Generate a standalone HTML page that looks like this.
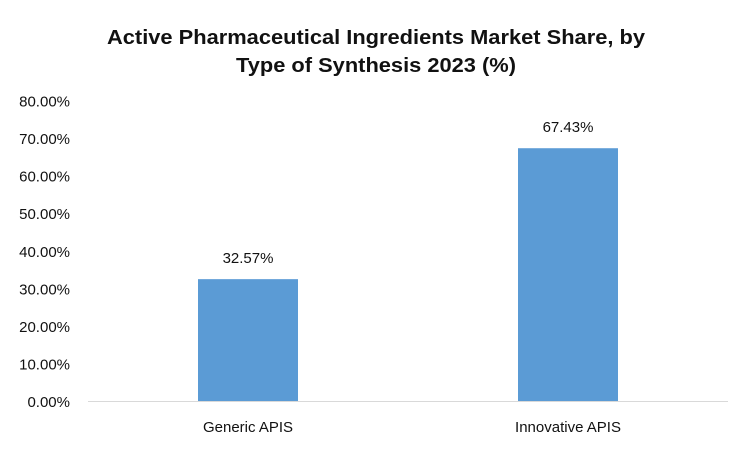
<!DOCTYPE html>
<html><head><meta charset="utf-8"><style>
html,body{margin:0;padding:0;background:#fff;}
svg{display:block;font-family:"Liberation Sans",sans-serif;}
</style></head><body>
<svg id="chart" width="750" height="450">
<rect width="750" height="450" fill="#fff"/>
<text x="376" y="44" text-anchor="middle" font-size="20" font-weight="bold" fill="#111" textLength="538" lengthAdjust="spacingAndGlyphs">Active Pharmaceutical  Ingredients Market Share, by</text>
<text x="376" y="72" text-anchor="middle" font-size="20" font-weight="bold" fill="#111" textLength="280" lengthAdjust="spacingAndGlyphs">Type of Synthesis 2023 (%)</text>
<g id="yaxis"></g><g id="bars"></g><g id="xaxis"></g>
</svg>
<script>
const categories = ["Generic APIS", "Innovative APIS"];
const values = [32.57, 67.43];
const valueLabels = ["32.57%", "67.43%"];
const yTicks = [0, 10, 20, 30, 40, 50, 60, 70, 80];
const yTickLabels = ["0.00%","10.00%","20.00%","30.00%","40.00%","50.00%","60.00%","70.00%","80.00%"];

const NS = "http://www.w3.org/2000/svg";
const x0 = 88, x1 = 728, yBase = 401.5, yTop = 101;
const y = v => yBase - (v / 80) * (yBase - yTop);
const band = (x1 - x0) / categories.length;
const xc = i => x0 + band * (i + 0.5);
const barW = 100;
function mk(tag, attrs, parent, text) {
  const e = document.createElementNS(NS, tag);
  for (const k in attrs) e.setAttribute(k, attrs[k]);
  if (text !== undefined) e.textContent = text;
  parent.appendChild(e);
  return e;
}
const ya = document.getElementById('yaxis');
yTicks.forEach((t, i) => {
  const el = mk('text', {x: 70, y: y(t) + 5.5, 'text-anchor': 'end', 'font-size': 15, fill: '#111'}, ya, yTickLabels[i]);
  
  
});
const bg = document.getElementById('bars');
values.forEach((v, i) => {
  const r = mk('rect', {x: xc(i) - barW / 2, y: y(v), width: barW, height: yBase - y(v), fill: '#5b9bd5'}, bg);
  
  
  const l = mk('text', {x: xc(i), y: y(v) - 16, 'text-anchor': 'middle', 'font-size': 15, fill: '#111'}, bg, valueLabels[i]);
  
  
});
const xa = document.getElementById('xaxis');
const ln = mk('line', {x1: x0, x2: x1, y1: yBase, y2: yBase, stroke: '#d9d9d9', 'stroke-width': 1}, xa);


categories.forEach((c, i) => {
  const t = mk('text', {x: xc(i), y: 432, 'text-anchor': 'middle', 'font-size': 15, fill: '#111'}, xa, c);
  
  
});
</script>
</body></html>
